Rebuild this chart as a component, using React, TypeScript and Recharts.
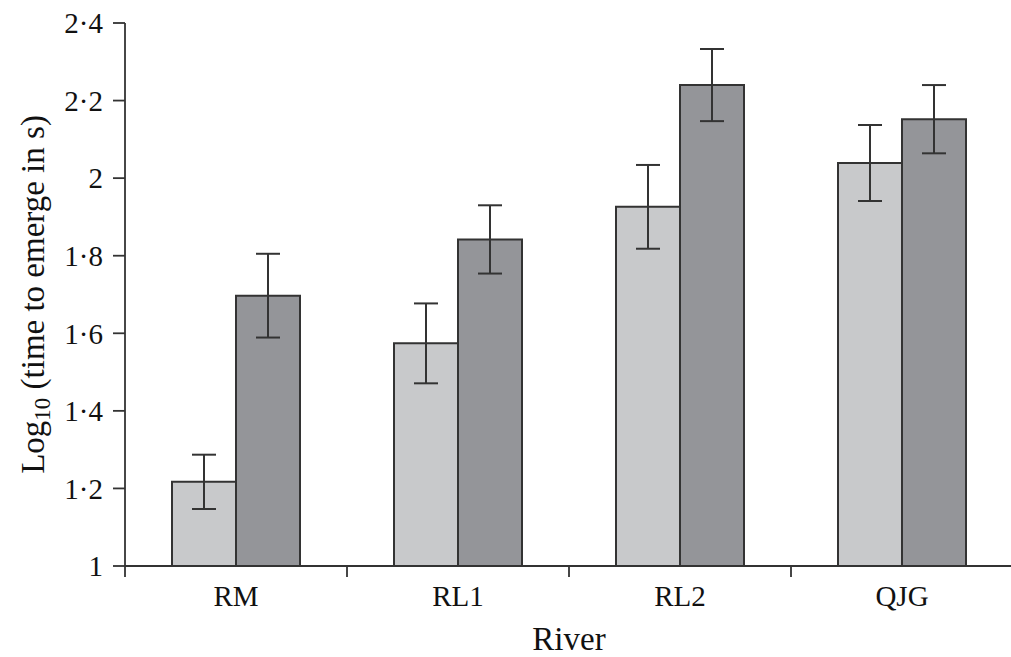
import React from 'react';
import { BarChart, Bar, XAxis, YAxis, ErrorBar, Label } from 'recharts';

const categories = ['RM', 'RL1', 'RL2', 'QJG'];
const lightMeans = [1.217, 1.574, 1.926, 2.039];
const lightErr = [0.07, 0.103, 0.108, 0.098];
const darkMeans = [1.697, 1.842, 2.24, 2.152];
const darkErr = [0.108, 0.088, 0.093, 0.088];
const yTicks = [1, 1.2, 1.4, 1.6, 1.8, 2, 2.2, 2.4];

const data = categories.map((c, i) => ({
  river: c,
  light: lightMeans[i],
  lightE: lightErr[i],
  dark: darkMeans[i],
  darkE: darkErr[i],
}));

const W = 1013;
const H = 657;
const YAXIS_W = 125;
const XAXIS_H = 60;
const MARGIN = { top: 23, right: 0, left: 0, bottom: 31 };
const PLOT_W = W - YAXIS_W - MARGIN.left - MARGIN.right;
const FONT = '"Liberation Serif", "Times New Roman", serif';
const TEXT = '#111111';
const AXIS = '#333333';

const fmt = (v: number) => (Number.isInteger(v) ? String(v) : v.toFixed(1).replace('.', '\u00b7'));

function XTick(props: any) {
  const { x, y, payload, index } = props;
  const half = payload && typeof payload.offset === 'number' && payload.offset > 0 ? payload.offset : PLOT_W / categories.length / 2;
  const last = index === categories.length - 1;
  return (
    <g>
      <line x1={x - half} y1={y} x2={x - half} y2={y + 11} stroke={AXIS} strokeWidth={1.8} />
      {last && <line x1={x + half} y1={y} x2={x + half} y2={y + 11} stroke={AXIS} strokeWidth={1.8} />}
      <text x={x} y={y + 19} dy="0.71em" textAnchor="middle" fontFamily={FONT} fontSize={29} fill={TEXT}>
        {payload.value}
      </text>
    </g>
  );
}

function YLabel(props: any) {
  const vb = props.viewBox || {};
  const cx = (vb.x ?? 0) + 33;
  const cy = (vb.y ?? 0) + (vb.height ?? 0) / 2;
  return (
    <text
      x={cx}
      y={cy}
      transform={`rotate(-90 ${cx} ${cy})`}
      textAnchor="middle"
      dominantBaseline="central"
      fontFamily={FONT}
      fontSize={33}
      fill={TEXT}
    >
      <tspan>Log</tspan>
      <tspan fontSize={23} dy={9}>10</tspan>
      <tspan dy={-9}> (time to emerge in s)</tspan>
    </text>
  );
}

function XLabel(props: any) {
  const vb = props.viewBox || {};
  const cx = (vb.x ?? 0) + (vb.width ?? 0) / 2;
  return (
    <text x={cx} y={650} textAnchor="middle" fontFamily={FONT} fontSize={33} fill={TEXT}>
      River
    </text>
  );
}

export default function App() {
  return (
    <div style={{ position: 'absolute', left: 0, top: 0, width: 1011, height: H, overflow: 'hidden', background: '#fff' }}>
      <BarChart width={W} height={H} data={data} margin={MARGIN} barGap={0} barSize={64}>
        <XAxis
          dataKey="river"
          height={XAXIS_H}
          tickLine={false}
          tickSize={0}
          tickMargin={0}
          tick={<XTick />}
          axisLine={{ stroke: AXIS, strokeWidth: 1.8 }}
          interval={0}
        >
          <Label content={<XLabel />} />
        </XAxis>
        <YAxis
          width={YAXIS_W}
          domain={[1, 2.4]}
          ticks={yTicks}
          tickFormatter={fmt}
          tickSize={12}
          tickMargin={10}
          tickLine={{ stroke: AXIS, strokeWidth: 1.8 }}
          axisLine={{ stroke: AXIS, strokeWidth: 1.8 }}
          tick={{ fontFamily: FONT, fontSize: 29, fill: TEXT }}
          allowDataOverflow
        >
          <Label content={<YLabel />} />
        </YAxis>
        <Bar dataKey="light" fill="#c8c9cb" stroke="#333333" strokeWidth={2} isAnimationActive={false}>
          <ErrorBar dataKey="lightE" width={12} stroke="#333333" strokeWidth={2} direction="y" />
        </Bar>
        <Bar dataKey="dark" fill="#949599" stroke="#333333" strokeWidth={2} isAnimationActive={false}>
          <ErrorBar dataKey="darkE" width={12} stroke="#333333" strokeWidth={2} direction="y" />
        </Bar>
      </BarChart>
    </div>
  );
}
